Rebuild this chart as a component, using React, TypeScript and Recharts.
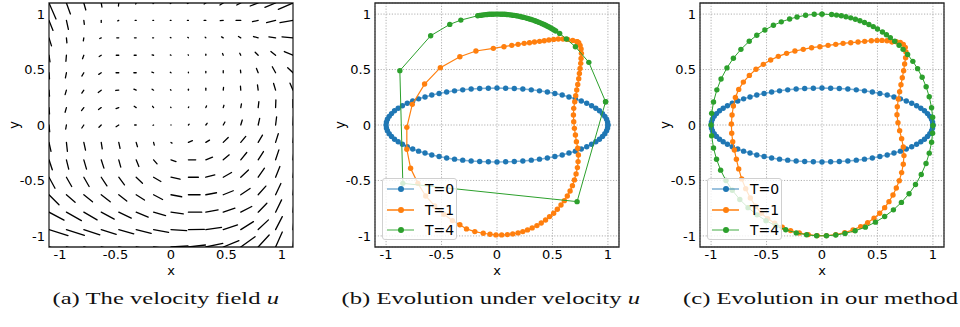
import React from 'react';
import { ScatterChart, Scatter, XAxis, YAxis, CartesianGrid, ReferenceLine, ReferenceArea, Legend } from 'recharts';

const TICKS = [-1, -0.5, 0, 0.5, 1];
const DOMAIN: [number, number] = [-1.1, 1.1];

// ---- (a) quiver grid ----
const QX = [-1.1, -0.943, -0.786, -0.629, -0.471, -0.314, -0.157, 0, 0.157, 0.314, 0.471, 0.629, 0.786, 0.943, 1.1];
const QY = [1.1, 0.943, 0.786, 0.629, 0.471, 0.314, 0.157, 0, -0.157, -0.314, -0.471, -0.629, -0.786, -0.943, -1.1];
// arrow components (in 1/111 data units)
const QU = [
  [7, 4, 2, 0.7, -0.3, -0.5, -0.5, -0.7, -1, -1.7, -3.3, -4, -8, -10.7, -14.7],
  [4, 2, 0.5, 0, -1, -1, -0.7, -0.7, -1, -1.7, -3, -4.7, -5.7, -9, -13],
  [2.5, 0.5, -0.5, -1.5, -2, -1.7, -1, -0.7, -0.7, -0.7, -1.7, -2.3, -4.7, -6.7, -11],
  [1, -0.5, -1.3, -2, -2.5, -2, -1.5, -0.7, -0.3, 0, -0.7, -1, -3, -4.7, -8.7],
  [0.5, -1, -2, -2.5, -2.7, -2.3, -1.7, -0.7, 0, 0, 0, -0.3, -1.7, -3.3, -5.3],
  [0.5, -1.3, -2, -3, -3, -2.3, -1.5, -0.5, 0, 0, 0.3, -0.3, -0.7, -2, -3],
  [0.5, -1.3, -2.3, -2.7, -2.7, -2, -1, -0.3, 0.3, 0.7, 0.7, 0.7, 0.7, 0.3, 0],
  [0.7, -0.7, -2, -2.3, -2.7, -1.5, -0.5, 0, 0.7, 1.3, 1.7, 1.5, 1.5, 1, 0.5],
  [2, 1, 1.7, 1, 1.3, 1.3, 0.7, 1, 4, 3.7, 5, 5, 4.3, 2.7, 1],
  [3.3, 2.3, 2.7, 2.7, 2, 2.7, 3.5, 5, 7.3, 6.7, 6, 6, 5.3, 3.3, 1],
  [6, 5.3, 5.3, 5.7, 5.7, 6.3, 7.3, 9, 10, 9, 8.3, 7.7, 6.3, 4.3, 1.3],
  [10, 8.7, 8.7, 9, 8, 8.3, 9, 10.7, 11.7, 10.7, 10, 9.3, 7.7, 5.3, 1.3],
  [15, 15, 13.3, 13, 12.5, 12, 12, 12.3, 13.3, 12.3, 11.7, 11, 8.7, 6, 1.3],
  [19, 18, 16, 15, 15, 15, 15, 15.7, 16, 15.7, 14.3, 12.7, 10.3, 6.7, 1.3],
  [21, 20, 19, 18, 18, 18, 18, 17, 17, 17, 15.7, 14.3, 11, 6.7, 1.5],
];
const QV = [
  [-16, -11, -7, -4, -3, -1, -0.5, -0.5, -0.5, -1, -2, -2, -3, -4.3, -6.3],
  [-10, -9, -4, -2, -0.5, 0, 0, 0, 0, 0, -0.3, 0, -1.3, -2.3, -2.3],
  [-8, -5, -3, -0.7, 0, 0, 0, 0.3, 0.5, 0.7, 1, 1.3, 1.3, 1, 1],
  [-6.5, -6, -3.5, -1.3, 0, 0, 0.3, 0.3, 0.5, 1, 1.7, 2, 3, 3.7, 3.7],
  [-6, -5, -3.3, -1.6, 0, 0, 0.7, 0.5, 0.7, 1.3, 2, 2.7, 4.3, 6, 5],
  [-6, -4.5, -3, -2.3, -0.3, 1, 1, 0.5, 1, 2, 2.7, 4, 5.3, 6.7, 7],
  [-6.3, -4.7, -3, -2, -1, 1.3, 1.3, 0.3, 0.7, 1.7, 2.3, 3.7, 6, 7.7, 8],
  [-6.7, -4, -3, -2.3, -1.7, 0, -0.3, 0, 0.7, 1.7, 3, 5, 6.7, 8, 8.5],
  [-9, -9, -7.7, -6.5, -6, -4.3, -2.7, -0.7, 1.7, 2.3, 5, 6, 7.3, 8.7, 9],
  [-10, -9.3, -9.3, -8.3, -7.3, -6.7, -4, -1.7, 0, 2.7, 5, 7.3, 8.3, 10, 10],
  [-11, -9.3, -9.3, -8.7, -7.7, -6, -4.3, -2, 0, 2.3, 4.7, 7.3, 9, 10.7, 11],
  [-10, -7.5, -7, -7, -6.3, -5.3, -4.7, -2, 0, 2, 4, 6.3, 8.7, 11.3, 12],
  [-8, -8.5, -7.7, -7, -6, -5, -3.5, -1.7, 0, 2.3, 4, 5.7, 9, 12.3, 13],
  [-6, -5.7, -5.3, -4.7, -4.3, -3.7, -2.7, -1, 0.3, 2.3, 4.7, 8, 9.7, 13, 14],
  [-5, -5, -4.5, -4, -3.5, -3, -2, 1, 2, 3.7, 6.3, 10.3, 12, 15, 16],
];
const Q_SCALE = 1 / 111;

// ---- T=0 ellipse (shared by b and c) ----
const T0_X = [1, 0.997, 0.988, 0.972, 0.951, 0.924, 0.891, 0.853, 0.809, 0.76, 0.707, 0.649, 0.588, 0.522, 0.454, 0.383, 0.309, 0.233, 0.156, 0.078, 0,
  -0.078, -0.156, -0.233, -0.309, -0.383, -0.454, -0.522, -0.588, -0.649, -0.707, -0.76, -0.809, -0.853, -0.891, -0.924, -0.951, -0.972, -0.988, -0.997, -1,
  -0.997, -0.988, -0.972, -0.951, -0.924, -0.891, -0.853, -0.809, -0.76, -0.707, -0.649, -0.588, -0.522, -0.454, -0.383, -0.309, -0.233, -0.156, -0.078, 0,
  0.078, 0.156, 0.233, 0.309, 0.383, 0.454, 0.522, 0.588, 0.649, 0.707, 0.76, 0.809, 0.853, 0.891, 0.924, 0.951, 0.972, 0.988, 0.997];
const T0_Y = [0, 0.026, 0.052, 0.078, 0.103, 0.128, 0.151, 0.174, 0.196, 0.216, 0.236, 0.253, 0.27, 0.284, 0.297, 0.308, 0.317, 0.324, 0.329, 0.332, 0.333,
  0.332, 0.329, 0.324, 0.317, 0.308, 0.297, 0.284, 0.27, 0.253, 0.236, 0.216, 0.196, 0.174, 0.151, 0.128, 0.103, 0.078, 0.052, 0.026, 0,
  -0.026, -0.052, -0.078, -0.103, -0.128, -0.151, -0.174, -0.196, -0.216, -0.236, -0.253, -0.27, -0.284, -0.297, -0.308, -0.317, -0.324, -0.329, -0.332, -0.333,
  -0.332, -0.329, -0.324, -0.317, -0.308, -0.297, -0.284, -0.27, -0.253, -0.236, -0.216, -0.196, -0.174, -0.151, -0.128, -0.103, -0.078, -0.052, -0.026];

// ---- (b) T=1 ----
const B_T1_X = [0.722, 0.683, 0.637, 0.595, 0.553, 0.511, 0.468, 0.426, 0.384, 0.338, 0.293, 0.245, 0.19, 0.133, 0.063, -0.033, -0.19, -0.335, -0.511, -0.653, -0.764, -0.813,
  -0.813, -0.779, -0.713, -0.643, -0.562, -0.48, -0.402, -0.335, -0.275, -0.2, -0.124, -0.063, -0.009, 0.042, 0.094, 0.142, 0.19, 0.233, 0.275, 0.317,
  0.36, 0.399, 0.438, 0.474, 0.511, 0.544, 0.577, 0.607, 0.634, 0.659, 0.68, 0.698, 0.713, 0.725, 0.731, 0.734, 0.728, 0.716, 0.707, 0.698,
  0.692, 0.689, 0.692, 0.701, 0.71, 0.719, 0.728, 0.737, 0.743, 0.749, 0.755, 0.758, 0.761, 0.758, 0.749, 0.737];
const B_T1_Y = [0.751, 0.763, 0.772, 0.775, 0.775, 0.772, 0.766, 0.76, 0.754, 0.748, 0.742, 0.736, 0.727, 0.718, 0.706, 0.691, 0.667, 0.616, 0.517, 0.369, 0.186, -0.021,
  -0.219, -0.39, -0.526, -0.64, -0.73, -0.805, -0.862, -0.9, -0.937, -0.961, -0.976, -0.985, -0.991, -0.991, -0.988, -0.982, -0.973, -0.961, -0.946, -0.928,
  -0.907, -0.883, -0.856, -0.826, -0.796, -0.76, -0.721, -0.682, -0.64, -0.595, -0.547, -0.495, -0.441, -0.384, -0.33, -0.27, -0.21, -0.15, -0.09, -0.03,
  0.03, 0.09, 0.15, 0.21, 0.264, 0.315, 0.366, 0.417, 0.465, 0.51, 0.556, 0.6, 0.646, 0.685, 0.718, 0.742];

// ---- (b) T=4 ----
const B_T4_X = [0.979, 0.828, 0.707, 0.625, 0.565,
  0.53, 0.515, 0.5, 0.485, 0.469, 0.454, 0.438, 0.423, 0.407, 0.391, 0.375, 0.358, 0.342, 0.326, 0.309, 0.292, 0.276, 0.259, 0.242, 0.225, 0.208,
  0.191, 0.174, 0.156, 0.139, 0.122, 0.105, 0.087, 0.07, 0.052, 0.035, 0.017, 0, -0.017, -0.035, -0.052, -0.07, -0.087, -0.105, -0.122, -0.139, -0.156, -0.174,
  -0.326, -0.426, -0.598, -0.876, -0.849, 0.722];
const B_T4_Y = [0.21, 0.565, 0.706, 0.775, 0.826,
  0.848, 0.857, 0.866, 0.875, 0.883, 0.891, 0.899, 0.906, 0.914, 0.921, 0.927, 0.934, 0.94, 0.946, 0.951, 0.956, 0.961, 0.966, 0.97, 0.974, 0.978,
  0.982, 0.985, 0.988, 0.99, 0.993, 0.995, 0.996, 0.998, 0.999, 0.999, 1, 1, 1, 0.999, 0.999, 0.998, 0.996, 0.995, 0.993, 0.99, 0.988, 0.985,
  0.946, 0.907, 0.805, 0.49, -0.526, -0.691];

// ---- (c) T=1 ----
const C_T1_X = [0.631, 0.586, 0.541, 0.496, 0.445, 0.385, 0.325, 0.259, 0.19, 0.124, 0.055, -0.019, -0.094, -0.169, -0.244, -0.319, -0.394, -0.463, -0.529, -0.595,
  -0.655, -0.709, -0.751, -0.781, -0.799, -0.811, -0.817, -0.814, -0.805, -0.79, -0.772, -0.751, -0.724, -0.688, -0.646, -0.598, -0.547, -0.49, -0.427, -0.358,
  -0.283, -0.205, -0.124, -0.043, 0.04, 0.124, 0.205, 0.28, 0.349, 0.412, 0.469, 0.52, 0.565, 0.604, 0.64, 0.67, 0.697, 0.718, 0.733, 0.739,
  0.733, 0.718, 0.7, 0.685, 0.676, 0.679, 0.688, 0.7, 0.712, 0.724, 0.736, 0.745, 0.754, 0.757, 0.751, 0.733, 0.706, 0.67];
const C_T1_Y = [0.751, 0.76, 0.763, 0.763, 0.76, 0.754, 0.748, 0.742, 0.736, 0.727, 0.718, 0.706, 0.697, 0.682, 0.667, 0.646, 0.619, 0.586, 0.547, 0.502,
  0.447, 0.387, 0.321, 0.249, 0.171, 0.09, 0.009, -0.075, -0.15, -0.225, -0.309, -0.396, -0.486, -0.574, -0.658, -0.733, -0.796, -0.844, -0.886, -0.922,
  -0.952, -0.973, -0.988, -0.997, -0.997, -0.988, -0.97, -0.946, -0.916, -0.88, -0.841, -0.796, -0.745, -0.691, -0.631, -0.568, -0.502, -0.429, -0.354, -0.276,
  -0.198, -0.123, -0.051, 0.021, 0.093, 0.165, 0.234, 0.3, 0.363, 0.426, 0.489, 0.55, 0.607, 0.658, 0.7, 0.727, 0.745, 0.751];

// ---- (c) T=4 ----
const C_T4_X = [0, 0.087, 0.131, 0.174, 0.216, 0.259, 0.301, 0.342, 0.383, 0.423, 0.462, 0.5, 0.545, 0.581, 0.616, 0.656, 0.695, 0.731,
  0.772, 0.819, 0.862, 0.903, 0.939, 0.967, 0.988, 0.998, 1, 0.997, 0.988, 0.967, 0.938, 0.895, 0.843, 0.785, 0.716, 0.644, 0.565, 0.482, 0.391, 0.299, 0.208, 0.124, 0.04,
  -0.049, -0.139, -0.232, -0.327, -0.416, -0.505, -0.586, -0.667, -0.741, -0.809, -0.866, -0.914, -0.951, -0.978, -0.995, -1,
  -0.995, -0.978, -0.948, -0.91, -0.857, -0.799, -0.731, -0.656, -0.588, -0.515, -0.438, -0.367, -0.292, -0.225, -0.148, -0.07];
const C_T4_Y = [1, 0.996, 0.991, 0.985, 0.976, 0.966, 0.954, 0.94, 0.924, 0.906, 0.887, 0.866, 0.839, 0.814, 0.788, 0.755, 0.719, 0.682,
  0.636, 0.574, 0.508, 0.431, 0.345, 0.255, 0.156, 0.07, -0.005, -0.075, -0.156, -0.254, -0.347, -0.446, -0.537, -0.62, -0.698, -0.765, -0.825, -0.876, -0.921, -0.954, -0.978, -0.992, -0.999,
  -0.999, -0.99, -0.973, -0.945, -0.909, -0.863, -0.81, -0.745, -0.672, -0.588, -0.5, -0.407, -0.309, -0.208, -0.096, 0,
  0.105, 0.208, 0.317, 0.415, 0.515, 0.602, 0.682, 0.755, 0.809, 0.857, 0.899, 0.93, 0.956, 0.974, 0.989, 0.998];

const SERIES_NAMES = ['T=0', 'T=1', 'T=4'];
const COLORS = ['#1f77b4', '#ff7f0e', '#2ca02c'];
const CAPTIONS = ['(a) The velocity field ', '(b) Evolution under velocity ', '(c) Evolution in our method'];

const closedLoop = (xs: number[], ys: number[]) => {
  const n = Math.min(xs.length, ys.length);
  const pts = [] as { x: number; y: number }[];
  for (let i = 0; i < n; i++) pts.push({ x: xs[i], y: ys[i] });
  pts.push(pts[0]);
  return pts;
};

const T0 = closedLoop(T0_X, T0_Y);
const B_T1 = closedLoop(B_T1_X, B_T1_Y);
const B_T4 = closedLoop(B_T4_X, B_T4_Y);
const C_T1 = closedLoop(C_T1_X, C_T1_Y);
const C_T4 = closedLoop(C_T4_X, C_T4_Y);

const QUIVER = QY.flatMap((y, r) => QX.map((x, c) => ({ x1: x, y1: y, x2: x + QU[r][c] * Q_SCALE, y2: y + QV[r][c] * Q_SCALE })));
const QTAILS = QUIVER.map((q) => ({ x: q.x1, y: q.y1 }));

const FONT = 'DejaVu Sans';
const CW = 320;
const CH = 280;
const PLOT = 244;
const TICK_STYLE = { fontSize: 13, fill: '#000', fontFamily: FONT };

function axes(grid: boolean) {
  return [
    grid ? <CartesianGrid key="g" stroke="#a8a8a8" strokeDasharray="1.2 1.6" strokeWidth={0.9} /> : null,
    <XAxis key="x" type="number" dataKey="x" domain={DOMAIN} ticks={TICKS} allowDataOverflow interval={0}
      tickLine={false} axisLine={false} tickSize={0} tickMargin={3} height={30} tick={TICK_STYLE} />,
    <YAxis key="y" type="number" dataKey="y" domain={DOMAIN} ticks={TICKS} allowDataOverflow interval={0}
      tickLine={false} axisLine={false} tickSize={0} tickMargin={4} width={40} tick={TICK_STYLE} />,
  ];
}

function frame() {
  return <ReferenceArea x1={-1.1} x2={1.1} y1={-1.1} y2={1.1} fill="none" fillOpacity={0} stroke="#2a2a2a" strokeWidth={1.3} ifOverflow="visible" />;
}

function axisLabels(plotLeft: number) {
  const cx = plotLeft + PLOT / 2;
  const ly = plotLeft - 35;
  return [
    <text key="lx" x={cx} y={274.5} textAnchor="middle" fontSize={13} fontFamily={FONT} fill="#000">x</text>,
    <text key="ly" x={ly} y={125} textAnchor="middle" dominantBaseline="central" fontSize={13.5} fontFamily={FONT} fill="#000"
      transform={`rotate(-90 ${ly} 125)`}>y</text>,
  ];
}

const dot = (color: string) => (p: any) => <circle cx={p.cx} cy={p.cy} r={2.7} fill={color} />;

function LegendBox() {
  return (
    <div style={{ width: 75, height: 62, boxSizing: 'border-box', background: 'rgba(255,255,255,0.8)', border: '1px solid #d0d0d0',
      borderRadius: 3, position: 'relative', fontFamily: FONT, fontSize: 14, color: '#000' }}>
      {SERIES_NAMES.map((name, i) => (
        <div key={name} style={{ position: 'absolute', left: 0, top: 10 + 20.5 * i - 8, height: 16, width: '100%' }}>
          <svg width={36} height={16} style={{ position: 'absolute', left: 0, top: 0 }}>
            <line x1={4} x2={31} y1={8} y2={8} stroke={COLORS[i]} strokeWidth={1.5} strokeOpacity={i === 1 ? 1 : 0.6} />
            <circle cx={18} cy={8} r={3} fill={COLORS[i]} />
          </svg>
          <span style={{ position: 'absolute', left: 42, top: 0, lineHeight: '16px', whiteSpace: 'nowrap' }}>{name}</span>
        </div>
      ))}
    </div>
  );
}

function QuiverPanel() {
  const plotLeft = 49;
  return (
    <ScatterChart width={CW} height={CH} margin={{ top: 3, right: CW - plotLeft - PLOT, bottom: CH - 3 - PLOT - 30, left: plotLeft - 40 }}>
      {axes(false)}
      <Scatter data={QTAILS} isAnimationActive={false} shape={() => <g />} />
      {QUIVER.map((q, i) => (
        <ReferenceLine key={i} segment={[{ x: q.x1, y: q.y1 }, { x: q.x2, y: q.y2 }]} stroke="#000" strokeWidth={1.3}
          strokeLinecap="round" ifOverflow="hidden" />
      ))}
      {frame()}
      {axisLabels(plotLeft)}
    </ScatterChart>
  );
}

function CurvePanel({ plotLeft, t1, t4 }: { plotLeft: number; t1: any[]; t4: any[] }) {
  return (
    <ScatterChart width={CW} height={CH} margin={{ top: 3, right: CW - plotLeft - PLOT, bottom: CH - 3 - PLOT - 30, left: plotLeft - 40 }}>
      {axes(true)}
      <Scatter name={SERIES_NAMES[0]} data={T0} isAnimationActive={false} line={{ stroke: COLORS[0], strokeWidth: 1.5, strokeOpacity: 0.6 }}
        lineJointType="linear" shape={dot(COLORS[0])} fill={COLORS[0]} />
      <Scatter name={SERIES_NAMES[1]} data={t1} isAnimationActive={false} line={{ stroke: COLORS[1], strokeWidth: 1.2 }}
        lineJointType="linear" shape={dot(COLORS[1])} fill={COLORS[1]} />
      <Scatter name={SERIES_NAMES[2]} data={t4} isAnimationActive={false} line={{ stroke: COLORS[2], strokeWidth: 1 }}
        lineJointType="linear" shape={dot(COLORS[2])} fill={COLORS[2]} />
      {frame()}
      {axisLabels(plotLeft)}
      <Legend layout="horizontal" verticalAlign="middle" align="center"
        wrapperStyle={{ left: plotLeft + 7, top: 178, width: 75, height: 62, lineHeight: 'normal' }}
        content={() => <LegendBox />} />
    </ScatterChart>
  );
}

export default function App() {
  const capX = [52.5, 341.5, 683];
  const capW = [226.5, 298.5, 275];
  return (
    <div style={{ position: 'absolute', left: 0, top: 0, width: 960, height: 327, background: '#fff', fontFamily: FONT, overflow: 'hidden' }}>
      <div style={{ position: 'absolute', left: 0, top: 0 }}><QuiverPanel /></div>
      <div style={{ position: 'absolute', left: 320, top: 0 }}><CurvePanel plotLeft={55} t1={B_T1} t4={B_T4} /></div>
      <div style={{ position: 'absolute', left: 640, top: 0 }}><CurvePanel plotLeft={60} t1={C_T1} t4={C_T4} /></div>
      <svg width={960} height={47} style={{ position: 'absolute', left: 0, top: 280 }}>
        {CAPTIONS.map((c, i) => (
          <text key={i} x={capX[i]} y={24} textLength={capW[i]} lengthAdjust="spacingAndGlyphs" fontFamily="Liberation Serif"
            fontSize={16.5} fill="#111">
            {c}{i < 2 ? <tspan fontStyle="italic">u</tspan> : null}
          </text>
        ))}
      </svg>
    </div>
  );
}
